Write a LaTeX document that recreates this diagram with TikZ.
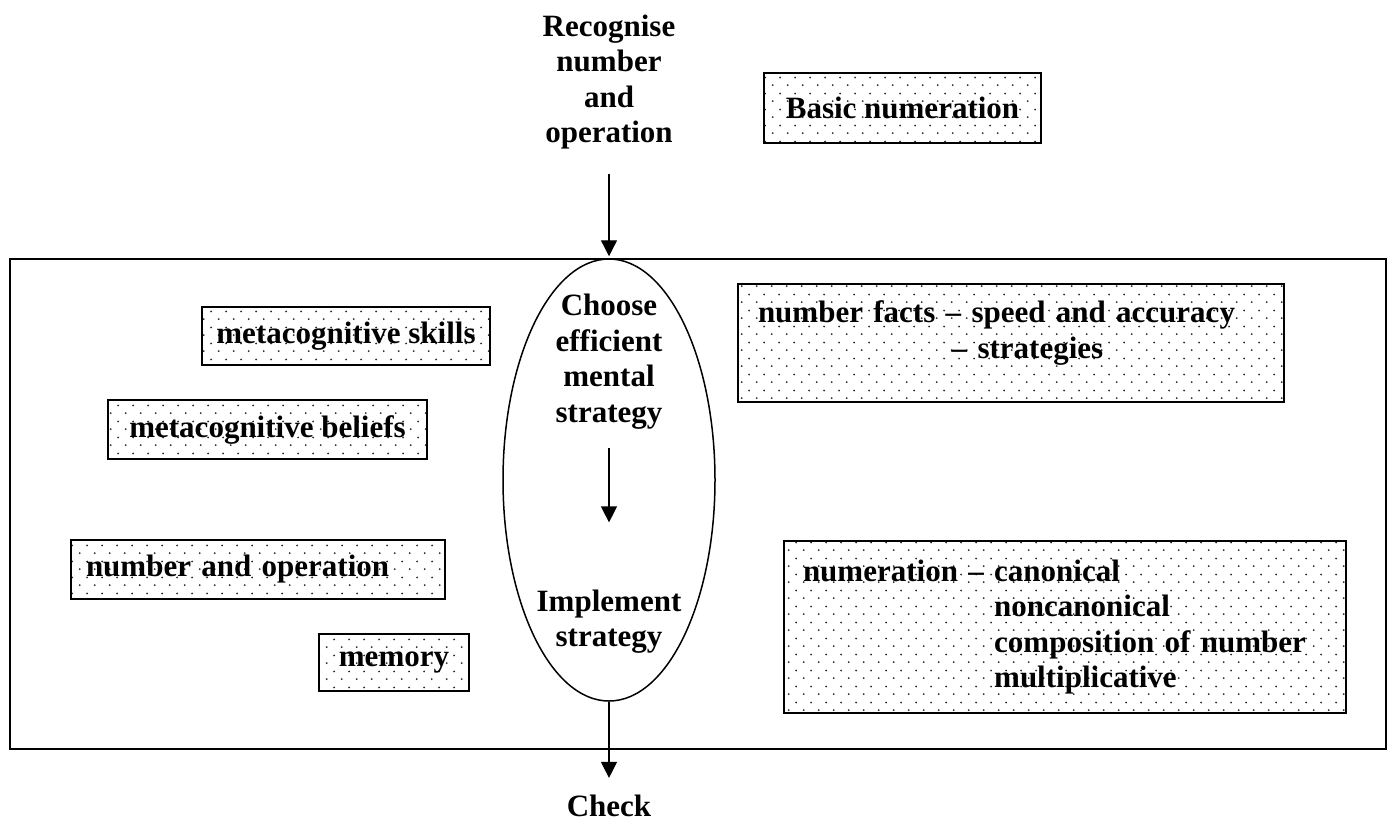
\documentclass[tikz,border=0pt]{standalone}
\usepackage{fontspec}
\setmainfont{Liberation Serif}
\usetikzlibrary{shapes.geometric,arrows.meta,patterns}

% sparse staggered dots for the shaded boxes
\pgfdeclarepatternformonly{boxdots}{\pgfqpoint{0pt}{0pt}}{\pgfqpoint{15.4pt}{15.6pt}}{\pgfqpoint{15.4pt}{15.6pt}}{%
  \pgfpathcircle{\pgfqpoint{3.85pt}{3.9pt}}{1.05pt}%
  \pgfpathcircle{\pgfqpoint{11.55pt}{11.7pt}}{1.05pt}%
  \pgfusepath{fill}}

\begin{document}
\begin{tikzpicture}[x=1pt, y=-1pt,
    label/.style={font=\fontsize{31pt}{35.5pt}\selectfont\bfseries, align=center, inner sep=0pt},
    dotbox/.style={draw, line width=2pt, pattern=boxdots, pattern color=black!85, anchor=north west,
      font=\fontsize{31pt}{35.5pt}\selectfont\bfseries, inner sep=0pt},
    arrow/.style={-{Triangle[width=16pt,length=16pt]}, line width=1.3pt}
]
\useasboundingbox (0,0) rectangle (1388,823);

% Frame
\draw[line width=2.2pt] (10,259) rectangle (1386,749);

% Strategy loop
\node[ellipse, draw, line width=1.5pt, minimum width=212pt, minimum height=442pt, inner sep=0pt] (strat) at (609,480) {};
\node[label] (recog) at (609,82) {Recognise\\number\\and\\operation};
\node[label] (choose) at (609,361.5) {Choose\\efficient\\mental\\strategy};
\node[label] (implement) at (609,621.5) {Implement\\strategy};
\node[label] (check) at (609,806) {Check};

% Boxes
\node[dotbox, minimum width=277pt, minimum height=70pt] (basic) at (763,72) {Basic numeration};
\node[dotbox, minimum width=288pt, minimum height=58pt] (skills) at (201,306) {metacognitive skills};
\node[dotbox, minimum width=319pt, minimum height=59pt] (beliefs) at (107,399) {metacognitive beliefs};
\node[dotbox, minimum height=59pt, text width=344pt, inner xsep=15pt, align=left] (numop) at (70,539) {number and operation};
\node[dotbox, minimum width=150pt, minimum height=57pt] (memory) at (318,633) {memory};
\node[dotbox, minimum height=118pt, text width=506pt, inner xsep=20pt, align=left, text depth=62pt] (facts) at (737,283)
  {number facts -- speed and accuracy\\\hphantom{number facts }\hspace{6pt}-- strategies};
\node[dotbox, minimum height=172pt, text width=524pt, inner xsep=19pt, align=left] (numer) at (783,540)
  {numeration -- canonical\\
   \hphantom{numeration -- }noncanonical\\
   \hphantom{numeration -- }composition of number\\
   \hphantom{numeration -- }multiplicative};

% Arrows
\draw[arrow, shorten <=24pt, shorten >=2pt] (recog.south) -- (strat.north);
\draw[arrow, shorten <=19pt, shorten >=67pt] (choose.south) -- (implement.north);
\draw[arrow, shorten >=17pt] (strat.south) -- (check.north);

\end{tikzpicture}
\end{document}
